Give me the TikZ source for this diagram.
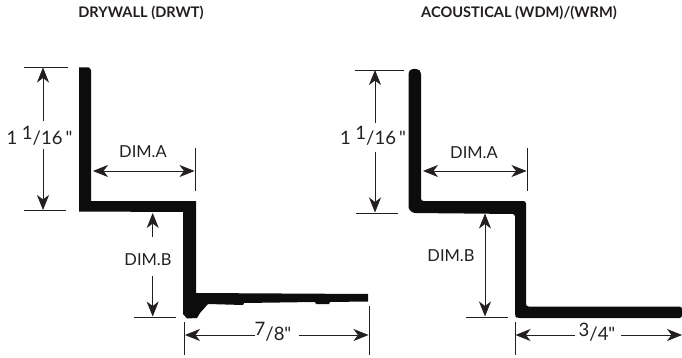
\documentclass[tikz,border=0pt]{standalone}
\usepackage{fontspec}
\setmainfont{Lato}
\newfontfamily\dimfont{Lato}
\usetikzlibrary{arrows.meta}
\definecolor{inkdark}{HTML}{231F20}
\definecolor{metal}{HTML}{0C0C0C}
\begin{document}
\begin{tikzpicture}[x=1pt,y=-1pt]
\tikzstyle{title}=[font=\fontsize{14.6}{16}\selectfont\bfseries,text=inkdark,inner sep=0pt]
\tikzstyle{dimlabel}=[font=\fontsize{16.5}{18}\selectfont,text=inkdark,inner sep=0pt]
\tikzstyle{sizelabel}=[font=\dimfont\fontsize{18.5}{20}\selectfont,text=inkdark,inner sep=0pt]
\tikzstyle{extline}=[draw=inkdark,line width=0.8pt]
\tikzstyle{dimline}=[draw=inkdark,line width=0.8pt,-{Stealth[length=15pt,width=12pt,inset=4.5pt]}]
\tikzstyle{bothline}=[draw=inkdark,line width=0.8pt,{Stealth[length=15pt,width=12pt,inset=4.5pt]}-{Stealth[length=15pt,width=12pt,inset=4.5pt]}]

\useasboundingbox (0,0) rectangle (682,358);

% left profile
\fill[metal] (79,67.5) -- (89,67.5) -- (91,70) -- (91,201) -- (196,201) -- (196,293)
  -- (368,294) -- (368,301.5) -- (330,302) -- (329,304) -- (316,304) -- (315,302) -- (244,303)
  -- (243,305) -- (208,304) -- (200,313) -- (197,318) -- (187,318.5) -- (183,314)
  -- (183,212) -- (79,211.5) -- cycle;

% right profile
\fill[metal,rounded corners=2.5pt] (408.5,72) -- (411,69) -- (418,69) -- (421,72) -- (421,201)
  -- (526,201) -- (526,306.5) -- (682,306.5) -- (682,318) -- (517,318) -- (515,316)
  -- (515,214) -- (413,213) -- (408.5,209) -- cycle;

\node[title] (lefttitle) at (141,13) {DRYWALL (DRWT)};
\node[title] (righttitle) at (519,13) {ACOUSTICAL (WDM)/(WRM)};

% left dimensions
\coordinate (lhtop) at (43,67.5);
\coordinate (lhbot) at (43,210);
\coordinate (lhtopa) at (24,67.5);
\coordinate (lhtopb) at (68,67.5);
\coordinate (lhbota) at (24,210);
\coordinate (lhbotb) at (66,210);
\node[sizelabel] (lheight) at (39.5,136) {1 \raisebox{4.5pt}{1}/16\,"};
\path (43,121) coordinate (lhup) (43,149) coordinate (lhdown);
\draw[extline] (lhtopa) -- (lhtopb);
\draw[extline] (lhbota) -- (lhbotb);
\draw[dimline] (lhup) -- (lhtop);
\draw[dimline] (lhdown) -- (lhbot);

\coordinate (latick) at (195,148);
\coordinate (latickb) at (195,191);
\coordinate (lastart) at (93,171);
\coordinate (laend) at (194.5,171);
\node[dimlabel] (ladim) at (143,152) {DIM.A};
\draw[extline] (latick) -- (latickb);
\draw[bothline] (lastart) -- (laend);

\coordinate (lbtop) at (152.7,213);
\coordinate (lbbot) at (152.7,316.5);
\coordinate (lbtica) at (134,317);
\coordinate (lbticb) at (176,317);
\node[dimlabel] (lbdim) at (148,259.5) {DIM.B};
\path (152.7,237) coordinate (lbup) (152.7,276) coordinate (lbdown);
\draw[extline] (lbtica) -- (lbticb);
\draw[dimline] (lbup) -- (lbtop);
\draw[dimline] (lbdown) -- (lbbot);

\coordinate (lwa) at (184.5,322);
\coordinate (lwb) at (184.5,355);
\coordinate (lwc) at (369,306);
\coordinate (lwd) at (369,355);
\coordinate (lwleft) at (185,335);
\coordinate (lwright) at (368.5,335);
\path (255,335) coordinate (lwgapa) (299,335) coordinate (lwgapb);
\node[sizelabel] (lwidth) at (273,332) {\raisebox{4.5pt}{7}/8"};
\draw[extline] (lwa) -- (lwb);
\draw[extline] (lwc) -- (lwd);
\draw[dimline] (lwgapa) -- (lwleft);
\draw[dimline] (lwgapb) -- (lwright);

% right dimensions
\coordinate (rhtop) at (375,70);
\coordinate (rhbot) at (375,212.5);
\coordinate (rhtopa) at (355,70);
\coordinate (rhtopb) at (404,70);
\coordinate (rhbota) at (356,213);
\coordinate (rhbotb) at (398,213);
\node[sizelabel] (rheight) at (373,136) {1 \raisebox{4.5pt}{1}/16\,"};
\path (375,123) coordinate (rhup) (375,152) coordinate (rhdown);
\draw[extline] (rhtopa) -- (rhtopb);
\draw[extline] (rhbota) -- (rhbotb);
\draw[dimline] (rhup) -- (rhtop);
\draw[dimline] (rhdown) -- (rhbot);

\coordinate (ratick) at (527,148);
\coordinate (ratickb) at (527,191);
\coordinate (rastart) at (423,171);
\coordinate (raend) at (526.5,171);
\node[dimlabel] (radim) at (474,153) {DIM.A};
\draw[extline] (ratick) -- (ratickb);
\draw[bothline] (rastart) -- (raend);

\coordinate (rbtop) at (485,213.5);
\coordinate (rbbot) at (485,316.5);
\coordinate (rbtica) at (466,317);
\coordinate (rbticb) at (508,317);
\node[dimlabel] (rbdim) at (451,256) {DIM.B};
\draw[extline] (rbtica) -- (rbticb);
\draw[bothline] (rbtop) -- (rbbot);

\coordinate (rwa) at (515,322);
\coordinate (rwb) at (515,355);
\coordinate (rwleft) at (515.5,335);
\coordinate (rwright) at (682,335);
\path (575,335) coordinate (rwgapa) (621,335) coordinate (rwgapb);
\node[sizelabel] (rwidth) at (597,332) {\raisebox{4.5pt}{3}/4"};
\draw[extline] (rwa) -- (rwb);
\draw[dimline] (rwgapa) -- (rwleft);
\draw[dimline] (rwgapb) -- (rwright);
\end{tikzpicture}
\end{document}
